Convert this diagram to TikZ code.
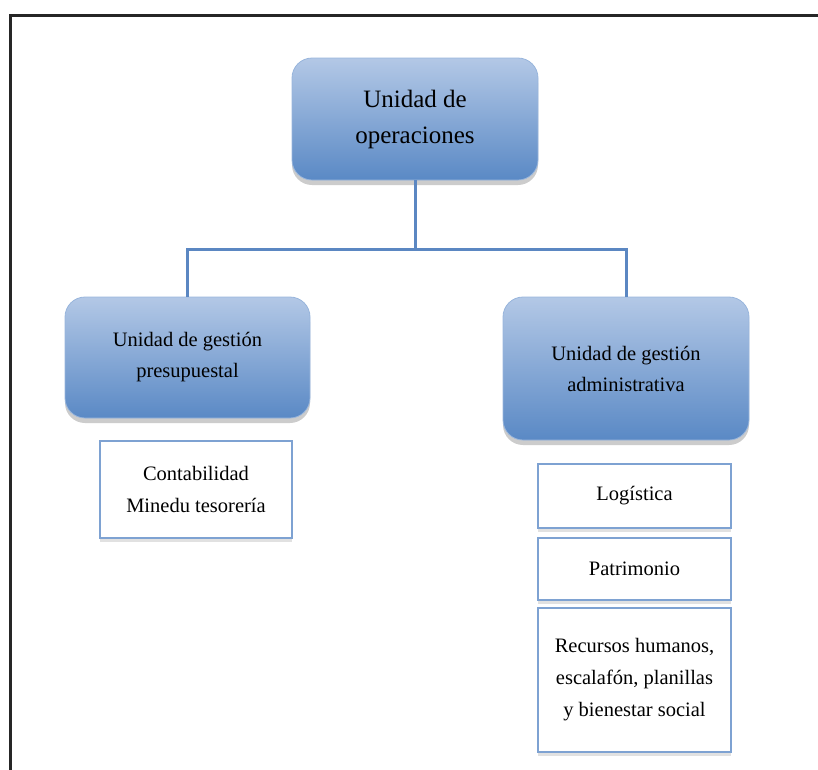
\documentclass[tikz,border=0pt]{standalone}
\usepackage{fontspec}
\setmainfont{Liberation Serif}
\usetikzlibrary{shadows,positioning}
\definecolor{linkblue}{HTML}{5B87C2}
\definecolor{boxtop}{HTML}{B3C8E6}
\definecolor{boxbot}{HTML}{5A89C5}
\definecolor{frameblue}{HTML}{7EA2D2}
\tikzset{
  unit/.style={rectangle,rounded corners=20pt,draw=boxtop!70!boxbot,line width=0.8pt,
    top color=boxtop,bottom color=boxbot,align=center,text=black,
    drop shadow={shadow xshift=0pt,shadow yshift=-5pt,fill=black!25,opacity=0.8}},
  task/.style={rectangle,draw=frameblue,line width=1.3pt,fill=white,align=center,
    minimum width=193pt,
    drop shadow={shadow xshift=0pt,shadow yshift=-4pt,fill=black!15,opacity=0.8}},
  conn/.style={linkblue,line width=3pt}
}
\begin{document}
\begin{tikzpicture}[x=1pt,y=-1pt]
\useasboundingbox (0,0) rectangle (818,769);
\draw[black!85,line width=3pt] (10,15) rectangle (840,800);
% main unit
\node[unit,minimum width=246pt,minimum height=122pt,font=\fontsize{25}{36}\selectfont]
  (ops) at (415,119) {Unidad de\\operaciones};
\node[unit,minimum width=245pt,minimum height=121pt,font=\fontsize{20.5}{31}\selectfont]
  (pres) at (187.5,357.5) {Unidad de gestión\\presupuestal};
\node[unit,minimum width=246pt,minimum height=143pt,font=\fontsize{20.5}{31}\selectfont]
  (admin) at (626,368.5) {Unidad de gestión\\administrativa};
% links
\coordinate (bus) at (415,249);
\draw[conn] (ops.south) -- (bus);
\draw[conn] (bus) -| (pres.north);
\draw[conn] (bus) -| (admin.north);
% tasks
\node[task,minimum width=192pt,minimum height=97pt,font=\fontsize{20.5}{32}\selectfont]
  (cont) at (196,489.5) {Contabilidad\\Minedu tesorería};
\node[task,minimum height=64pt,font=\fontsize{20.5}{32}\selectfont]
  (log) at (634.5,496) {Logística};
\node[task,minimum height=62pt,font=\fontsize{20.5}{32}\selectfont]
  (pat) at (634.5,569) {Patrimonio};
\node[task,minimum height=144pt,font=\fontsize{20.5}{32}\selectfont]
  (rrhh) at (634.5,680) {Recursos humanos,\\escalafón, planillas\\y bienestar social};
\end{tikzpicture}
\end{document}
